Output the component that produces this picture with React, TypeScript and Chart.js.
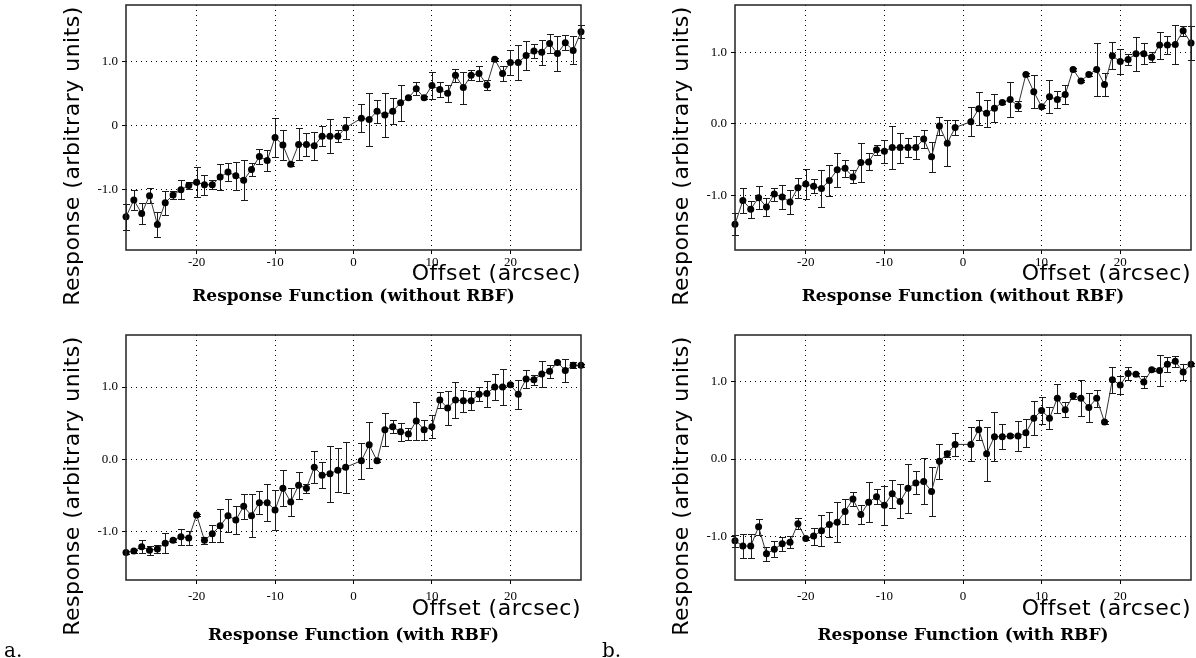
import React, { useEffect, useRef } from "react";
import { Chart, registerables } from "chart.js";

Chart.register(...registerables);

// Offsets (arcsec) at which the response was measured (no point at 0)
const offsets = [
  -29, -28, -27, -26, -25, -24, -23, -22, -21, -20, -19, -18, -17, -16, -15,
  -14, -13, -12, -11, -10, -9, -8, -7, -6, -5, -4, -3, -2, -1,
  1, 2, 3, 4, 5, 6, 7, 8, 9, 10, 11, 12, 13, 14, 15,
  16, 17, 18, 19, 20, 21, 22, 23, 24, 25, 26, 27, 28, 29,
];

// a. top: Response Function (without RBF)
const aTopValues = [
  -1.42, -1.16, -1.37, -1.09, -1.54, -1.2, -1.08, -1.0, -0.93, -0.88, -0.92, -0.92, -0.8, -0.72, -0.78,
  -0.85, -0.68, -0.48, -0.54, -0.18, -0.3, -0.6, -0.29, -0.29, -0.31, -0.16, -0.16, -0.16, -0.03,
  0.12, 0.1, 0.23, 0.17, 0.23, 0.36, 0.44, 0.58, 0.44, 0.63, 0.57, 0.51, 0.79, 0.6, 0.79,
  0.82, 0.64, 1.04, 0.82, 0.99, 0.99, 1.1, 1.17, 1.15, 1.29, 1.13, 1.3, 1.18, 1.47,
];
const aTopErrors = [
  0.2, 0.16, 0.17, 0.12, 0.19, 0.19, 0.07, 0.15, 0.06, 0.23, 0.16, 0.07, 0.2, 0.14, 0.22,
  0.31, 0.1, 0.12, 0.17, 0.31, 0.24, 0.03, 0.25, 0.18, 0.22, 0.16, 0.27, 0.09, 0.17,
  0.22, 0.42, 0.18, 0.35, 0.2, 0.28, 0.02, 0.1, 0.02, 0.21, 0.12, 0.13, 0.1, 0.25, 0.08,
  0.12, 0.08, 0.02, 0.12, 0.19, 0.28, 0.23, 0.11, 0.2, 0.15, 0.27, 0.12, 0.22, 0.1,
];

// a. bottom: Response Function (with RBF)
const aBottomValues = [
  -1.29, -1.27, -1.21, -1.26, -1.24, -1.16, -1.12, -1.07, -1.09, -0.77, -1.12, -1.03, -0.92, -0.78, -0.84,
  -0.65, -0.78, -0.6, -0.6, -0.7, -0.4, -0.59, -0.36, -0.4, -0.11, -0.22, -0.2, -0.15, -0.11,
  -0.02, 0.2, -0.02, 0.41, 0.45, 0.38, 0.35, 0.53, 0.41, 0.45, 0.82, 0.71, 0.82, 0.81, 0.81,
  0.9, 0.91, 1.0, 1.0, 1.03, 0.9, 1.11, 1.1, 1.18, 1.22, 1.34, 1.23, 1.3, 1.3,
];
const aBottomErrors = [
  0.02, 0.02, 0.09, 0.06, 0.06, 0.14, 0.02, 0.11, 0.1, 0.02, 0.05, 0.12, 0.23, 0.23, 0.2,
  0.17, 0.3, 0.16, 0.26, 0.28, 0.25, 0.19, 0.19, 0.06, 0.22, 0.18, 0.39, 0.3, 0.35,
  0.25, 0.32, 0.02, 0.23, 0.09, 0.12, 0.08, 0.26, 0.14, 0.16, 0.11, 0.24, 0.25, 0.15, 0.13,
  0.1, 0.18, 0.18, 0.25, 0.02, 0.2, 0.13, 0.07, 0.18, 0.09, 0.02, 0.16, 0.04, 0.02,
];

// b. top: Response Function (without RBF)
const bTopValues = [
  -1.4, -1.07, -1.19, -1.03, -1.16, -0.98, -1.02, -1.09, -0.89, -0.84, -0.87, -0.9, -0.79, -0.64, -0.62,
  -0.74, -0.54, -0.53, -0.36, -0.38, -0.33, -0.33, -0.33, -0.33, -0.21, -0.46, -0.03, -0.27, -0.05,
  0.03, 0.21, 0.15, 0.22, 0.3, 0.34, 0.25, 0.69, 0.45, 0.24, 0.38, 0.34, 0.41, 0.76, 0.6,
  0.69, 0.76, 0.55, 0.95, 0.87, 0.9, 0.98, 0.98, 0.93, 1.1, 1.1, 1.11, 1.3, 1.13,
];
const bTopErrors = [
  0.15, 0.17, 0.12, 0.16, 0.12, 0.09, 0.17, 0.17, 0.14, 0.21, 0.1, 0.26, 0.21, 0.24, 0.12,
  0.09, 0.27, 0.12, 0.07, 0.16, 0.3, 0.21, 0.13, 0.16, 0.12, 0.21, 0.13, 0.32, 0.1,
  0.2, 0.23, 0.19, 0.2, 0.02, 0.24, 0.07, 0.02, 0.23, 0.02, 0.23, 0.12, 0.13, 0.02, 0.02,
  0.02, 0.37, 0.16, 0.19, 0.18, 0.08, 0.24, 0.15, 0.07, 0.19, 0.13, 0.27, 0.07, 0.24,
];

// b. bottom: Response Function (with RBF)
const bBottomValues = [
  -1.06, -1.13, -1.13, -0.88, -1.23, -1.17, -1.1, -1.08, -0.84, -1.03, -1.0, -0.93, -0.85, -0.82, -0.68,
  -0.52, -0.72, -0.56, -0.49, -0.6, -0.45, -0.55, -0.38, -0.31, -0.29, -0.42, -0.03, 0.07, 0.19,
  0.19, 0.38, 0.07, 0.29, 0.29, 0.3, 0.3, 0.34, 0.53, 0.63, 0.53, 0.79, 0.64, 0.82, 0.79,
  0.67, 0.79, 0.48, 1.03, 0.96, 1.11, 1.1, 1.0, 1.16, 1.15, 1.23, 1.27, 1.13, 1.23,
];
const bBottomErrors = [
  0.08, 0.16, 0.16, 0.1, 0.09, 0.1, 0.09, 0.08, 0.07, 0.02, 0.11, 0.2, 0.16, 0.26, 0.16,
  0.09, 0.12, 0.26, 0.1, 0.25, 0.18, 0.22, 0.32, 0.15, 0.3, 0.32, 0.23, 0.04, 0.15,
  0.22, 0.13, 0.35, 0.32, 0.16, 0.02, 0.2, 0.18, 0.22, 0.18, 0.14, 0.19, 0.1, 0.04, 0.23,
  0.19, 0.11, 0.02, 0.17, 0.12, 0.09, 0.02, 0.08, 0.02, 0.2, 0.1, 0.07, 0.1, 0.02,
];

// Axis tick labels
const yTickValues = [-1, 0, 1];
const yTickLabelsFirst = ["-1.0", "0", "1.0"];
const yTickLabelsOther = ["-1.0", "0.0", "1.0"];

const xTitle = "Offset (arcsec)";
const yTitle = "Response (arbitrary units)";
const titleWithout = "Response Function (without RBF)";
const titleWith = "Response Function (with RBF)";

type PanelProps = {
  left: number;
  top: number;
  width: number;
  height: number;
  areaLeft: number;
  areaRight: number;
  yMin: number;
  yMax: number;
  values: number[];
  errors: number[];
  yLabels: string[];
  title: string;
  tickPad: number;
  xTitleDy: number;
  titleDy: number;
};

function Panel(p: PanelProps) {
  const ref = useRef<HTMLCanvasElement | null>(null);

  useEffect(() => {
    if (!ref.current) return;
    const AREA_BOTTOM = 250;
    const X_AXIS_H = 20;

    const errorBars = {
      id: "errorBars",
      beforeDatasetsDraw(chart: any) {
        const { ctx, scales } = chart;
        const xs = scales.x;
        const ys = scales.y;
        ctx.save();
        ctx.strokeStyle = "#1a1a1a";
        ctx.lineWidth = 1;
        offsets.forEach((ox, i) => {
          const e = p.errors[i];
          if (!e) return;
          const px = Math.round(xs.getPixelForValue(ox)) + 0.5;
          const y1 = Math.round(ys.getPixelForValue(p.values[i] + e)) + 0.5;
          const y2 = Math.round(ys.getPixelForValue(p.values[i] - e)) + 0.5;
          ctx.beginPath();
          ctx.moveTo(px, y1);
          ctx.lineTo(px, y2);
          ctx.moveTo(px - 3.5, y1);
          ctx.lineTo(px + 3.5, y1);
          ctx.moveTo(px - 3.5, y2);
          ctx.lineTo(px + 3.5, y2);
          ctx.stroke();
        });
        ctx.restore();
      },
    };

    const decorations = {
      id: "decorations",
      afterDraw(chart: any) {
        const { ctx, chartArea: a } = chart;
        ctx.save();
        ctx.strokeStyle = "#222";
        ctx.lineWidth = 1.5;
        ctx.strokeRect(a.left, a.top, a.right - a.left, a.bottom - a.top);
        ctx.fillStyle = "#000";
        ctx.font = '22px "DejaVu Sans"';
        (ctx as any).letterSpacing = "0.5px";
        ctx.save();
        ctx.translate(a.left - 53, 156);
        ctx.rotate(-Math.PI / 2);
        ctx.textAlign = "center";
        ctx.textBaseline = "middle";
        ctx.fillText(yTitle, 0, 0);
        ctx.restore();
        ctx.textAlign = "right";
        ctx.textBaseline = "alphabetic";
        ctx.fillText(xTitle, a.right, a.bottom + p.xTitleDy);
        (ctx as any).letterSpacing = "0px";
        ctx.font = 'bold 17px "DejaVu Serif"';
        ctx.textAlign = "center";
        ctx.fillText(p.title, (a.left + a.right) / 2, a.bottom + p.titleDy);
        ctx.restore();
      },
    };

    const tickFont = { family: '"Liberation Serif", serif', size: 13 };

    const chart = new Chart(ref.current, {
      type: "scatter",
      data: {
        datasets: [
          {
            data: offsets.map((x, i) => ({ x, y: p.values[i] })),
            showLine: true,
            borderColor: "#333",
            borderWidth: 1,
            pointRadius: 3.5,
            pointBorderWidth: 0,
            pointBackgroundColor: "#000",
            tension: 0,
            clip: false as any,
          },
        ],
      },
      options: {
        animation: false,
        responsive: false,
        maintainAspectRatio: false,
        layout: {
          padding: {
            left: 0,
            top: 5,
            right: p.width - p.areaRight,
            bottom: p.height - AREA_BOTTOM - X_AXIS_H,
          },
        },
        plugins: {
          legend: { display: false },
          tooltip: { enabled: false },
          title: { display: false },
        },
        scales: {
          x: {
            type: "linear",
            min: -29,
            max: 29,
            ticks: {
              stepSize: 10,
              includeBounds: false,
              color: "#000",
              font: tickFont,
              padding: p.tickPad,
              maxRotation: 0,
              autoSkip: false,
            },
            grid: {
              color: "#000",
              lineWidth: 1,
              drawTicks: true,
              tickLength: 4,
              tickColor: "#000",
              tickWidth: 1,
            },
            border: { display: false, dash: [1, 4] },
            afterFit: (s: any) => {
              s.height = X_AXIS_H;
              s.paddingLeft = 0;
              s.paddingRight = 0;
            },
          },
          y: {
            type: "linear",
            min: p.yMin,
            max: p.yMax,
            ticks: {
              stepSize: 1,
              includeBounds: false,
              color: "#000",
              font: tickFont,
              padding: 4,
              callback: (v: any) => {
                const idx = yTickValues.indexOf(Math.round(Number(v) * 1000) / 1000);
                return idx >= 0 ? p.yLabels[idx] : "";
              },
            },
            grid: {
              color: "#000",
              lineWidth: 1,
              drawTicks: true,
              tickLength: 4,
              tickColor: "#000",
              tickWidth: 1,
            },
            border: { display: false, dash: [1, 4] },
            afterFit: (s: any) => {
              s.width = p.areaLeft;
              s.paddingTop = 0;
              s.paddingBottom = 0;
            },
          },
        },
      } as any,
      plugins: [errorBars, decorations],
    });
    return () => chart.destroy();
  }, []);

  return (
    <canvas
      ref={ref}
      width={p.width}
      height={p.height}
      style={{ position: "absolute", left: p.left, top: p.top, width: p.width, height: p.height }}
    />
  );
}

export default function App() {
  const labelStyle: React.CSSProperties = {
    position: "absolute",
    font: '20px "DejaVu Serif", serif',
    lineHeight: "20px",
    color: "#000",
  };
  return (
    <div
      style={{
        position: "fixed",
        left: 0,
        top: 0,
        width: 1196,
        height: 658,
        background: "#fff",
        overflow: "hidden",
      }}
    >
      <Panel left={0} top={0} width={600} height={330} areaLeft={126} areaRight={581}
        yMin={-1.94} yMax={1.89} values={aTopValues} errors={aTopErrors}
        yLabels={yTickLabelsFirst} title={titleWithout} tickPad={1} xTitleDy={30} titleDy={51} />
      <Panel left={0} top={330} width={600} height={328} areaLeft={126} areaRight={581}
        yMin={-1.67} yMax={1.72} values={aBottomValues} errors={aBottomErrors}
        yLabels={yTickLabelsOther} title={titleWith} tickPad={5} xTitleDy={35} titleDy={60} />
      <Panel left={600} top={0} width={596} height={330} areaLeft={135} areaRight={591}
        yMin={-1.76} yMax={1.66} values={bTopValues} errors={bTopErrors}
        yLabels={yTickLabelsOther} title={titleWithout} tickPad={1} xTitleDy={30} titleDy={51} />
      <Panel left={600} top={330} width={596} height={328} areaLeft={135} areaRight={591}
        yMin={-1.57} yMax={1.61} values={bBottomValues} errors={bBottomErrors}
        yLabels={yTickLabelsOther} title={titleWith} tickPad={5} xTitleDy={35} titleDy={60} />
      <div style={{ ...labelStyle, left: 4, top: 640 }}>a.</div>
      <div style={{ ...labelStyle, left: 602, top: 640 }}>b.</div>
    </div>
  );
}
